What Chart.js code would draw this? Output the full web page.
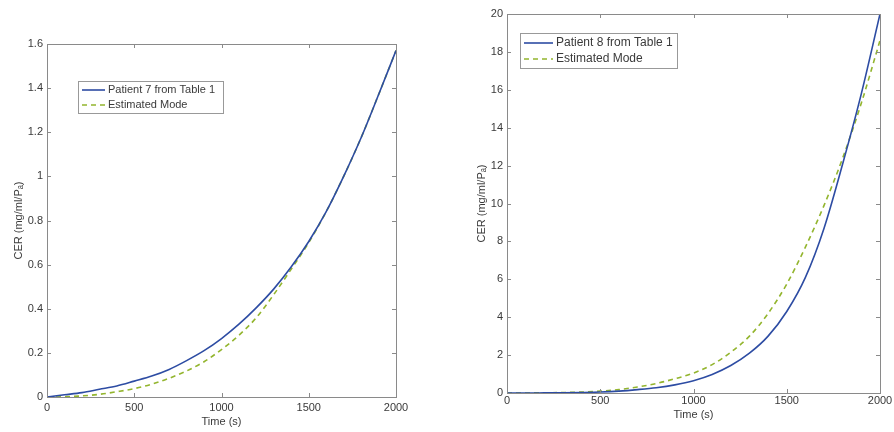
<!DOCTYPE html>
<html>
<head>
<meta charset="utf-8">
<script src="https://cdn.jsdelivr.net/npm/chart.js@4.4.0/dist/chart.umd.min.js"></script>
<style>
  html, body { margin: 0; padding: 0; background: #fff; }
  #wrap { position: relative; width: 894px; height: 432px; overflow: hidden; }
  .box { position: absolute; top: 0; width: 447px; height: 432px; }
  #left-box { left: 0; }
  #right-box { left: 447px; }
</style>
</head>
<body>
<div id="wrap">
  <div class="box" id="left-box"><canvas id="left-chart"></canvas></div>
  <div class="box" id="right-box"><canvas id="right-chart"></canvas></div>
</div>
<script>
// === DATA ===
const times = [0, 100, 200, 300, 400, 500, 600, 700, 800, 900, 1000,
               1100, 1200, 1300, 1400, 1500, 1600, 1700, 1800, 1900, 2000];

// left panel: patient 7
const patient7 = [0, 0.01, 0.02, 0.035, 0.05, 0.072, 0.095, 0.125, 0.165, 0.21, 0.265,
                  0.33, 0.405, 0.49, 0.59, 0.705, 0.84, 1.0, 1.175, 1.37, 1.57];
const estimated7 = [0, 0.001, 0.005, 0.012, 0.024, 0.038, 0.058, 0.085, 0.118, 0.16, 0.215,
                    0.28, 0.36, 0.465, 0.58, 0.7, 0.84, 1.0, 1.175, 1.37, 1.57];

// right panel: patient 8
const patient8 = [0, 0, 0.005, 0.01, 0.025, 0.05, 0.1, 0.18, 0.28, 0.43, 0.65,
                  0.98, 1.45, 2.1, 3.0, 4.3, 6.1, 8.7, 12.1, 15.8, 20];
const estimated8 = [0, 0.002, 0.01, 0.025, 0.05, 0.1, 0.18, 0.32, 0.5, 0.75, 1.05,
                    1.5, 2.15, 3.0, 4.2, 5.75, 7.7, 9.9, 12.4, 15.3, 18.6];

const xTicks = [0, 500, 1000, 1500, 2000];
const leftLabels = ['Patient 7 from Table 1', 'Estimated Mode'];
const rightLabels = ['Patient 8 from Table 1', 'Estimated Mode'];
const yTitle = 'CER (mg/ml/P\u2090)';
const xTitle = 'Time (s)';

const BLUE = '#2d4ca3';
const GREEN = '#93b52e';
const FRAME = '#8a8a8a';
const TEXT = '#3a3a3a';
const FONT = "'Liberation Sans', Arial, sans-serif";

function toPoints(values) {
    return times.map((t, i) => ({ x: t, y: values[i] }));
}

// frame + inward ticks, MATLAB style
const framePlugin = {
    id: 'frame',
    afterDatasetsDraw(chart) {
        const { ctx, chartArea: a, scales } = chart;
        ctx.save();
        ctx.strokeStyle = FRAME;
        ctx.lineWidth = 1;
        ctx.strokeRect(Math.round(a.left) + 0.5, Math.round(a.top) + 0.5,
                       Math.round(a.right - a.left), Math.round(a.bottom - a.top));
        const len = 4;
        ctx.beginPath();
        scales.y.ticks.forEach(t => {
            const y = Math.round(scales.y.getPixelForValue(t.value)) + 0.5;
            ctx.moveTo(a.left, y); ctx.lineTo(a.left + len, y);
            ctx.moveTo(a.right, y); ctx.lineTo(a.right - len, y);
        });
        scales.x.ticks.forEach(t => {
            const x = Math.round(scales.x.getPixelForValue(t.value)) + 0.5;
            ctx.moveTo(x, a.bottom); ctx.lineTo(x, a.bottom - len);
            ctx.moveTo(x, a.top); ctx.lineTo(x, a.top + len);
        });
        ctx.stroke();
        ctx.restore();
    }
};

// legend box drawn inside the axes
function legendPlugin(opts) {
    return {
        id: 'innerLegend',
        afterDraw(chart) {
            const { ctx } = chart;
            const ds = chart.data.datasets;
            ctx.save();
            ctx.fillStyle = '#fff';
            ctx.fillRect(opts.x, opts.y, opts.w, opts.h);
            ctx.strokeStyle = '#999';
            ctx.lineWidth = 1;
            ctx.strokeRect(opts.x + 0.5, opts.y + 0.5, opts.w, opts.h);
            ds.forEach((d, i) => {
                const y = opts.y + opts.rowTop + i * opts.rowGap;
                ctx.strokeStyle = d.borderColor;
                ctx.lineWidth = d.borderWidth;
                ctx.setLineDash(d.borderDash || []);
                ctx.beginPath();
                ctx.moveTo(opts.x + 4, y);
                ctx.lineTo(opts.x + 4 + opts.lineLen, y);
                ctx.stroke();
                ctx.setLineDash([]);
                ctx.fillStyle = TEXT;
                ctx.font = `${opts.fontSize}px ${FONT}`;
                ctx.textBaseline = 'middle';
                ctx.fillText(d.label, opts.x + 7 + opts.lineLen, y);
            });
            ctx.restore();
        }
    };
}

function makeChart(id, cfg) {
    const ctx = document.getElementById(id).getContext('2d');
    return new Chart(ctx, {
        type: 'line',
        data: {
            datasets: [{
                label: cfg.labels[0],
                data: toPoints(cfg.solid),
                borderColor: BLUE,
                borderWidth: 1.6,
                pointRadius: 0,
                cubicInterpolationMode: 'monotone',
                fill: false
            }, {
                label: cfg.labels[1],
                data: toPoints(cfg.dashed),
                borderColor: GREEN,
                borderWidth: 1.6,
                borderDash: [5, 4],
                pointRadius: 0,
                cubicInterpolationMode: 'monotone',
                fill: false
            }]
        },
        options: {
            responsive: true,
            maintainAspectRatio: false,
            animation: false,
            layout: { padding: cfg.padding },
            plugins: { legend: { display: false }, tooltip: { enabled: false } },
            scales: {
                x: {
                    type: 'linear',
                    min: 0,
                    max: 2000,
                    afterBuildTicks: s => { s.ticks = xTicks.map(v => ({ value: v })); },
                    afterFit: s => { s.height = cfg.xHeight; },
                    grid: { display: false, drawTicks: false },
                    border: { display: false },
                    ticks: {
                        color: TEXT, padding: cfg.xTickPad, font: { size: 11, family: FONT },
                        callback: v => String(v)
                    },
                    title: {
                        display: true, text: xTitle, color: TEXT,
                        padding: { top: 0, bottom: cfg.xTitlePad },
                        font: { size: 11, family: FONT }
                    }
                },
                y: {
                    min: 0,
                    max: cfg.yMax,
                    afterFit: s => { s.width = cfg.yWidth; },
                    grid: { display: false, drawTicks: false },
                    border: { display: false },
                    ticks: {
                        color: TEXT, stepSize: cfg.yStep, padding: 4, font: { size: 11, family: FONT },
                        callback: v => String(+v.toFixed(2))
                    },
                    title: {
                        display: true, text: yTitle, color: TEXT,
                        padding: { top: 0, bottom: 0 },
                        font: { size: 11, family: FONT }
                    }
                }
            }
        },
        plugins: [framePlugin, legendPlugin(cfg.legend)]
    });
}

makeChart('left-chart', {
    labels: leftLabels, solid: patient7, dashed: estimated7,
    yMax: 1.6, yStep: 0.2,
    padding: { left: 12, right: 51, top: 44, bottom: 0 },
    yWidth: 35, xHeight: 35, xTickPad: 4, xTitlePad: 3,
    legend: { x: 78, y: 81, w: 145, h: 32, rowTop: 9, rowGap: 15, lineLen: 23, fontSize: 11 }
});

makeChart('right-chart', {
    labels: rightLabels, solid: patient8, dashed: estimated8,
    yMax: 20, yStep: 2,
    padding: { left: 28, right: 14, top: 14, bottom: 0 },
    yWidth: 32, xHeight: 39, xTickPad: 1, xTitlePad: 10,
    legend: { x: 73, y: 33, w: 157, h: 35, rowTop: 10, rowGap: 16, lineLen: 29, fontSize: 12 }
});
</script>
</body>
</html>
